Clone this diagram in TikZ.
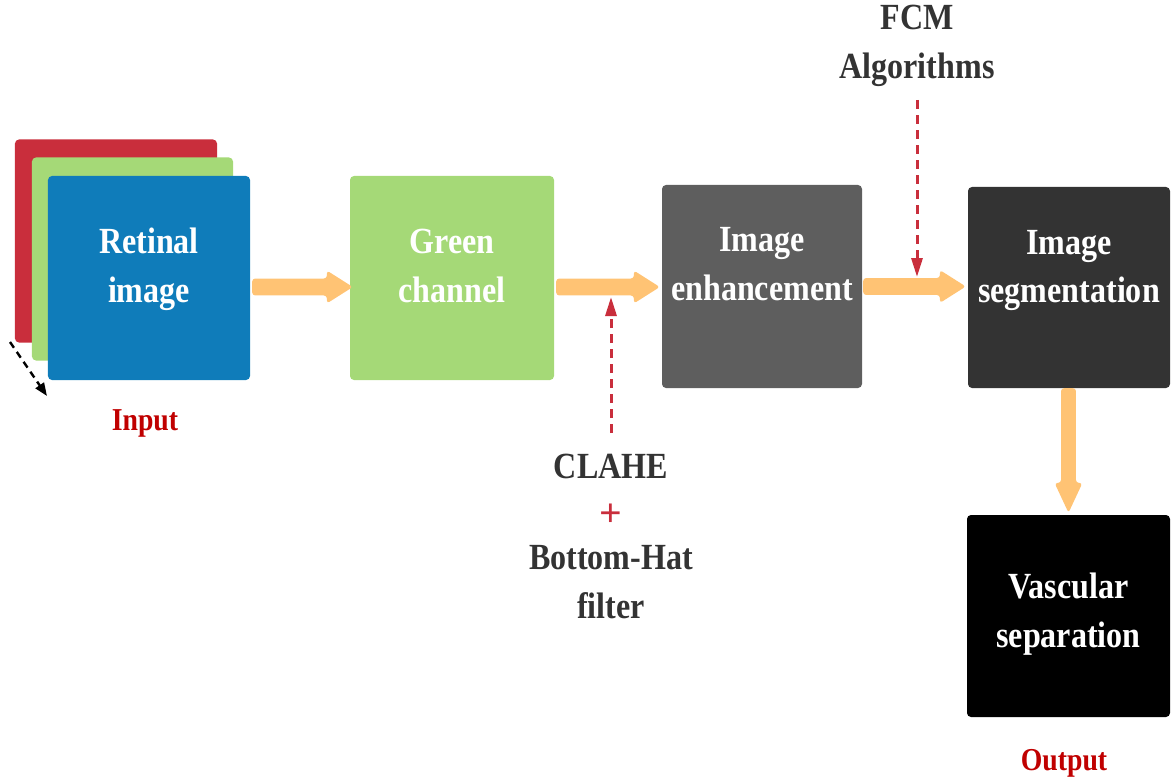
\documentclass[tikz,border=0pt]{standalone}
\usepackage{fontspec}
\newfontfamily\labfont{Liberation Serif}[FakeStretch=0.87]
\newfontfamily\signfont{Liberation Serif}
\usetikzlibrary{arrows.meta,calc}
\definecolor{stackred}{HTML}{C92E3C}
\definecolor{stackgreen}{HTML}{A5D977}
\definecolor{retblue}{HTML}{0F7CBA}
\definecolor{enhgray}{HTML}{5E5E5E}
\definecolor{seggray}{HTML}{333333}
\definecolor{flow}{HTML}{FFC374}
\definecolor{hint}{HTML}{C92E3C}
\definecolor{tagred}{HTML}{C00000}
\definecolor{inkgray}{HTML}{333333}
\tikzset{
  card/.style={rounded corners=4bp, inner sep=0pt, minimum width=#1},
  cardtext/.style={font=\labfont\bfseries\fontsize{37}{49}\selectfont, text=white, align=center},
  caption/.style={font=\labfont\bfseries\fontsize{37}{49}\selectfont, text=inkgray, align=center},
  tag/.style={font=\labfont\bfseries\fontsize{32}{36}\selectfont, text=tagred},
  % broad block arrow pointing right, tip at the target
  fatright/.style={to path={
    let \p1=(\tikztostart), \p2=(\tikztotarget) in
    [rounded corners=3pt]
    ({\x1},{\y2+8.5pt}) -- ({\x2-26pt},{\y2+8.5pt}) -- ({\x2-26pt},{\y2+16.5pt})
    -- (\x2,\y2) -- ({\x2-26pt},{\y2-16.5pt}) -- ({\x2-26pt},{\y2-8.5pt})
    -- ({\x1},{\y2-8.5pt}) -- cycle}},
  % broad block arrow pointing down, tip at the target
  fatdown/.style={to path={
    let \p1=(\tikztostart), \p2=(\tikztotarget) in
    [rounded corners=3pt]
    ({\x2-7.5pt},{\y1}) -- ({\x2-7.5pt},{\y2+30pt}) -- ({\x2-14pt},{\y2+30pt})
    -- (\x2,\y2) -- ({\x2+14pt},{\y2+30pt}) -- ({\x2+7.5pt},{\y2+30pt})
    -- ({\x2+7.5pt},{\y1}) -- cycle}},
  hintarrow/.style={draw=hint, line width=3bp, dash pattern=on 9bp off 6bp,
    -{Triangle[length=19bp,width=11bp]}},
  stackarrow/.style={draw=black, line width=2.4bp, dash pattern=on 7bp off 5bp,
    -{Triangle[length=13bp,width=10bp]}}
}
\begin{document}
\begin{tikzpicture}[x=1bp, y=-1bp]
  \useasboundingbox (0,0) rectangle (1172,778);

  % stacked colour planes of the input image
  \node[card=202bp, minimum height=203bp, fill=stackred] (planeR) at (116,241) {};
  \node[card=201bp, minimum height=203bp, fill=stackgreen] (planeG) at (132.5,259) {};
  \node[card=202bp, minimum height=204bp, fill=retblue] (ret) at (149,278) {};
  \node[cardtext] at ([yshift=9bp]ret.center) {Retinal\\image};
  \coordinate (stackA) at (10,342);
  \coordinate (stackB) at (47,396);
  \draw[stackarrow] (stackA) -- (stackB);
  \node[tag] (input) at (145,423) {Input};

  % processing stages
  \node[card=204bp, minimum height=204bp, fill=stackgreen] (gc) at (452,278) {};
  \node[cardtext] at ([yshift=12bp]gc.center) {Green\\channel};

  \node[card=200bp, minimum height=203bp, fill=enhgray] (ie) at (762,286.5) {};
  \node[cardtext] at ([yshift=22bp]ie.center) {Image\\enhancement};

  \node[card=202bp, minimum height=201bp, fill=seggray] (is) at (1069,287.5) {};
  \node[cardtext] at ([yshift=17bp]is.center) {Image\\segmentation};

  \node[card=203bp, minimum height=202bp, fill=black] (vs) at (1068.5,616) {};
  \node[cardtext] at ([yshift=2bp]vs.center) {Vascular\\separation};
  \node[tag] (output) at (1064,763) {Output};

  % main flow
  \fill[flow] ([xshift=2bp,yshift=-9bp]ret.east) to[fatright] ([xshift=3bp,yshift=-9bp]gc.west);
  \fill[flow] ([xshift=2bp,yshift=-9bp]gc.east) to[fatright] ([xshift=-2bp,yshift=-0.5bp]ie.west);
  \fill[flow] ([xshift=1bp]ie.east) to[fatright] ([xshift=-2bp,yshift=1bp]is.west);
  \fill[flow] (is.south -| 1068.5,0) to[fatdown] ([yshift=2bp]vs.north -| 1068.5,0);

  % enhancement method
  \node[caption] (clahe) at (611,466) {CLAHE};
  \node[font=\signfont\bfseries\fontsize{40}{42}\selectfont, text=hint] (plus) at (611,515) {+};
  \node[caption] (bothat) at (611,582) {Bottom-Hat\\filter};
  \coordinate (claheTop) at (611,297);
  \coordinate (claheBot) at (611,433);
  \draw[hintarrow] (claheBot) -- (claheTop);

  % segmentation method
  \node[caption] (fcm) at (917,46) {FCM\\Algorithms};
  \coordinate (fcmTop) at (917,100);
  \coordinate (fcmBot) at (917,277);
  \draw[hintarrow] (fcmTop) -- (fcmBot);
\end{tikzpicture}
\end{document}
